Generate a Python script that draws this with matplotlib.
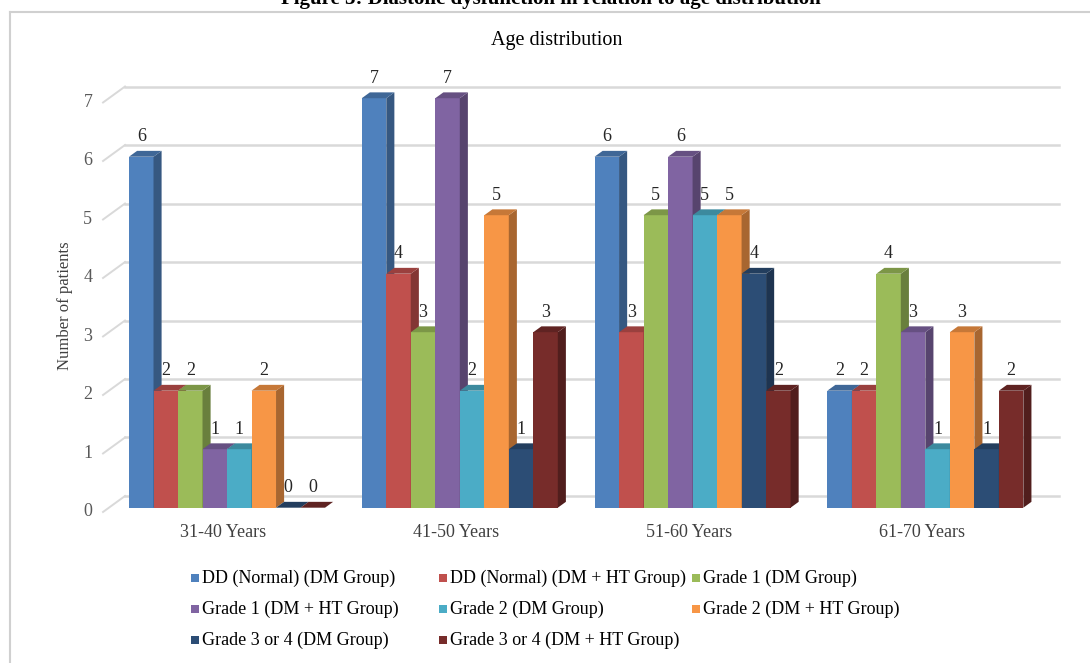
import numpy as np
import matplotlib.pyplot as plt
from matplotlib.colors import to_rgb
from matplotlib.lines import Line2D
from matplotlib.patches import Polygon, Rectangle

plt.rcParams['font.family'] = ['Liberation Serif', 'DejaVu Serif']

age_groups = ['31-40 Years', '41-50 Years', '51-60 Years', '61-70 Years']

series_names = [
    'DD (Normal) (DM Group)',
    'DD (Normal) (DM + HT Group)',
    'Grade 1 (DM Group)',
    'Grade 1 (DM + HT Group)',
    'Grade 2 (DM Group)',
    'Grade 2 (DM + HT Group)',
    'Grade 3 or 4 (DM Group)',
    'Grade 3 or 4 (DM + HT Group)',
]

dd_normal_dm = [6, 7, 6, 2]
dd_normal_dm_ht = [2, 4, 3, 2]
grade1_dm = [2, 3, 5, 4]
grade1_dm_ht = [1, 7, 6, 3]
grade2_dm = [1, 2, 5, 1]
grade2_dm_ht = [2, 5, 5, 3]
grade34_dm = [0, 1, 4, 1]
grade34_dm_ht = [0, 3, 2, 2]

series_values = [dd_normal_dm, dd_normal_dm_ht, grade1_dm, grade1_dm_ht,
                 grade2_dm, grade2_dm_ht, grade34_dm, grade34_dm_ht]

series_colors = ['#4F81BD', '#C0504D', '#9BBB59', '#8064A2',
                 '#4BACC6', '#F79646', '#2C4D75', '#772C2A']

y_ticks = [0, 1, 2, 3, 4, 5, 6, 7]

# fake 3d geometry (x in bar widths, y in patients)
group_step = 9.5
depth_dx, depth_dy = 0.33, 0.10
front_dy, back_dy = -0.073, 0.20
front_x, back_x0, back_x1 = -1.06, -0.163, 37.96


def shade(color, f):
    r, g, b = to_rgb(color)
    return (r * f, g * f, b * f)


fig = plt.figure(figsize=(10.9, 6.63), dpi=100)
ax = fig.add_axes([0, 0, 1, 1])
ax.set_xlim(-5.265, 39.22)
ax.set_ylim(-2.655, 8.679)
ax.axis('off')

# back wall gridlines and the slanted ticks in front of them
grid_col = '#D9D9D9'
for v in y_ticks:
    ax.plot([back_x0, back_x1], [v + back_dy, v + back_dy], color=grid_col, lw=1.8, zorder=1)
    ax.plot([front_x, back_x0], [v + front_dy, v + back_dy], color=grid_col, lw=1.4, zorder=1)
    ax.text(-1.5, v + front_dy, str(v), ha='right', va='center', fontsize=13, color='#595959')

ax.text(-2.62, 3.46, 'Number of patients', rotation=90, ha='center', va='center',
        fontsize=12, color='#404040')

group_x = np.arange(len(age_groups)) * group_step
for j, (vals, col) in enumerate(zip(series_values, series_colors)):
    x = group_x + j
    z = 10 + 3 * j
    ax.bar(x, vals, width=1, align='edge', color=col, linewidth=0, zorder=z)
    for xi, v in zip(x, vals):
        side = [(xi + 1, 0), (xi + 1 + depth_dx, depth_dy),
                (xi + 1 + depth_dx, v + depth_dy), (xi + 1, v)]
        top = [(xi, v), (xi + depth_dx, v + depth_dy),
               (xi + 1 + depth_dx, v + depth_dy), (xi + 1, v)]
        ax.add_patch(Polygon(side, closed=True, color=shade(col, 0.68), lw=0, zorder=z + 1))
        ax.add_patch(Polygon(top, closed=True, color=shade(col, 0.8), lw=0, zorder=z + 1))
        ax.text(xi + 0.5, v + 0.34, str(v), ha='center', va='center',
                fontsize=13, color='#262626', zorder=5)

for gx, label in zip(group_x, age_groups):
    ax.text(gx + 3.85, -0.43, label, ha='center', va='center', fontsize=13, color='#404040')

W, H = 1090, 663
fig.text(0.511, 1 - 41 / H, 'Age distribution', ha='center', va='center', fontsize=14.5)

# legend, three entries per row
leg_cols = [191, 439, 692]
leg_rows = [578, 609, 640]
for i, (name, col) in enumerate(zip(series_names, series_colors)):
    lx = leg_cols[i % 3]
    ly = leg_rows[i // 3]
    fig.add_artist(Rectangle((lx / W, (H - ly - 4) / H), 8 / W, 8 / H,
                             transform=fig.transFigure, color=col, lw=0))
    fig.text((lx + 11) / W, 1 - ly / H, name, ha='left', va='center', fontsize=13)

# outer chart frame and the clipped figure caption above it
fig.add_artist(Line2D([10 / W, 10 / W], [0, 1 - 12 / H], transform=fig.transFigure,
                      color='#D0D0D0', lw=1.5))
fig.add_artist(Line2D([10 / W, 1], [1 - 12 / H, 1 - 12 / H], transform=fig.transFigure,
                      color='#D0D0D0', lw=1.5))
fig.text(0.505, 1 - 4 / H, 'Figure 3: Diastolic dysfunction in relation to age distribution',
         ha='center', va='baseline', fontsize=15, fontweight='bold')

fig.savefig('out.png', dpi=100)
